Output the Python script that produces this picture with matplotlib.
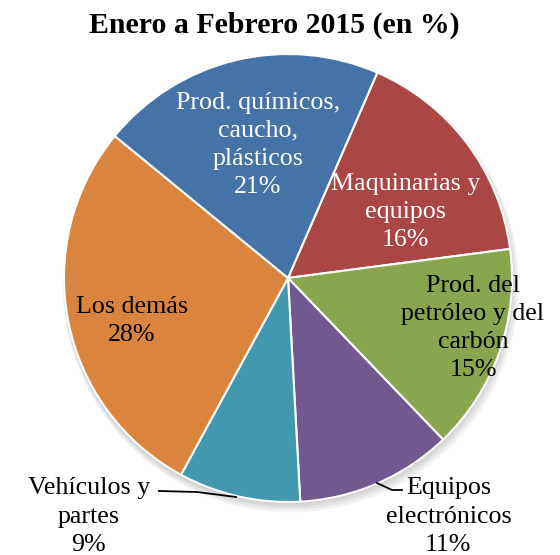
import matplotlib
matplotlib.use("Agg")
import matplotlib.pyplot as plt
from matplotlib.patches import Circle

# Data (clockwise from the top-right boundary)
categories = ["Maquinarias y\nequipos", "Prod. del\npetróleo y del\ncarbón",
              "Equipos\nelectrónicos", "Vehículos y\npartes", "Los demás",
              "Prod. químicos,\ncaucho,\nplásticos"]
values = [16.4, 14.9, 11.3, 8.8, 28.0, 20.6]
colors = ["#AA4644", "#89A54E", "#71588F", "#4198AF", "#DB843D", "#4573A7"]
text_colors = ["white", "black", "black", "black", "black", "white"]
title = "Enero a Febrero 2015 (en %)"

W, H = 560, 555
cx, cy, R = 288, 278, 224

fig = plt.figure(figsize=(W / 100, H / 100), dpi=100)
ax = fig.add_axes([0, 0, 1, 1])

serif = ["Liberation Serif", "DejaVu Serif"]

# soft shadow
for i, a in enumerate([0.05, 0.05, 0.05, 0.05]):
    ax.add_patch(Circle((0.0 + 0.004 * i, -0.01 - 0.006 * i), 1.0 + 0.006 * i,
                        facecolor="black", alpha=a, edgecolor="none", zorder=0))

wedges, _ = ax.pie(values, colors=colors, startangle=66.5, counterclock=False,
                   radius=1.0, center=(0, 0),
                   wedgeprops=dict(edgecolor="white", linewidth=1.5, zorder=2))

pcts = ["%.0f%%" % v for v in values]

# label positions in data units (radius = 1)
pos = [(0.525, 0.295), (0.826, -0.223), (0.716, -1.065), (-0.89, -1.065),
       (-0.696, -0.192), (-0.134, 0.594)]
fs = 18.7
for lab, pc, (x, y), tc in zip(categories, pcts, pos, text_colors):
    ax.text(x, y, lab + "\n" + pc, ha="center", va="center",
            multialignment="center", color=tc, fontsize=fs,
            family=serif, linespacing=1.37, zorder=5, clip_on=False)

# leader lines (data units)
def px(x, y):
    return ((x - cx) / R, (cy - y) / R)

l1 = [px(377, 483), px(392, 490), px(402, 490)]
ax.plot([p[0] for p in l1], [p[1] for p in l1], color="black", lw=1.3, zorder=6)
l2 = [px(236, 497), px(197, 492), px(159, 491)]
ax.plot([p[0] for p in l2], [p[1] for p in l2], color="black", lw=1.3, zorder=6)

ax.set_xlim(-cx / R, (W - cx) / R)
ax.set_ylim(-(H - cy) / R, cy / R)
ax.set_aspect("auto")
ax.axis("off")

fig.text(274 / W, 1 - 25 / H, title, ha="center", va="center",
         fontsize=21.5, fontweight="bold", family=serif)

fig.savefig("out.png", dpi=100)
